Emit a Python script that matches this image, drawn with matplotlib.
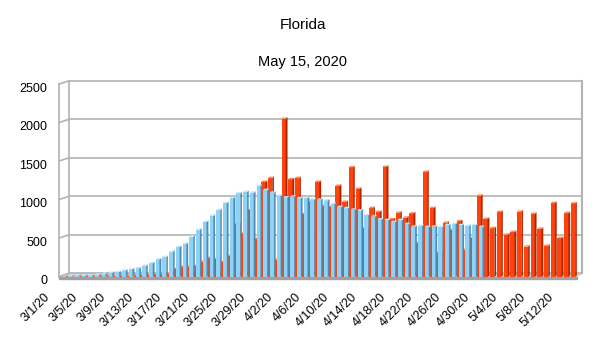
import matplotlib
matplotlib.use("Agg")
import matplotlib.pyplot as plt
from matplotlib.collections import PolyCollection
import matplotlib.transforms as mtransforms

plt.rcParams["font.family"] = ["Liberation Sans", "DejaVu Sans"]

# daily values, 3/1/20 .. 5/15/20
red_vals = [2, 1, 3, 2, 2, 5, 5, 8, 10, 10, 15, 20, 25,
            30, 30, 40, 100, 130, 130, 140, 195, 245, 230, 190,
            270, 680, 560, 865, 490, 1230, 1280, 220,
            2050, 1265, 1280, 815, 970, 1230, 920, 905, 1180, 970,
            1420, 1140, 630, 890, 840, 1425, 745, 830, 765, 820,
            440, 1360, 890, 310, 700, 610, 720, 350, 500, 1050,
            750, 630, 840, 545, 580, 845, 390, 815, 620, 400, 955, 500, 825, 950]
# 3/1/20 .. 5/1/20
blue_vals = [10, 12, 15, 18, 25, 35, 50, 60, 80, 95, 110, 140, 175,
             225, 255, 325, 385, 425, 520, 610, 710, 790, 865, 955, 1020, 1085,
             1100, 1090, 1180, 1125, 1090, 1050, 1030, 1040, 1020, 1020, 1005, 1000,
             990, 945, 905, 890, 870, 860, 800, 780, 745, 735, 710, 735,
             685, 650, 660, 645, 650, 645, 670, 685, 670, 660, 670, 645]
tick_labels = ["3/1/20", "3/5/20", "3/9/20", "3/13/20", "3/17/20", "3/21/20",
               "3/25/20", "3/29/20", "4/2/20", "4/6/20", "4/10/20", "4/14/20",
               "4/18/20", "4/22/20", "4/26/20", "4/30/20", "5/4/20", "5/8/20",
               "5/12/20"]
y_ticks = [0, 500, 1000, 1500, 2000, 2500]

W, H = 605, 340
PX_DAY = 6.73           # pixels per day on the bar plane
Y0, YTOP = 276.6, 84.1  # pixel rows of 0 and 2500 on the front plane
PX_UNIT = (Y0 - YTOP) / 2500

fig = plt.figure(figsize=(W / 100, H / 100), dpi=100)

# walls and floor, drawn in pixel space
bg = fig.add_axes([0, 0, 1, 1])
bg.set_xlim(0, W)
bg.set_ylim(H, 0)
bg.axis("off")
grid_c = "#b3b3b3"
bg.fill([59, 577, 582, 69], [Y0, Y0, Y0 - 3.3, Y0 - 3.3], color="#d4d4d4", zorder=1)
bg.fill([59, 577, 577, 59], [Y0, Y0, Y0 + 2, Y0 + 2], color="#a0a0a0", zorder=1)
for v in y_ticks:
    yb = Y0 - 3.3 - v * PX_UNIT
    bg.plot([69, 582], [yb, yb], color=grid_c, lw=1.2, zorder=1)
    bg.plot([59, 69], [yb + 3.3, yb], color=grid_c, lw=1.2, zorder=1)
bg.plot([59, 59], [YTOP, Y0], color=grid_c, lw=1.2, zorder=1)
bg.plot([69, 69], [YTOP - 3.3, Y0 - 3.3], color=grid_c, lw=1.2, zorder=1)
bg.plot([582, 582], [YTOP - 3.3, Y0 - 3.3], color=grid_c, lw=1.5, zorder=1)

fig.text(303 / W, 1 - 25 / H, "Florida", ha="center", va="center", fontsize=11)
fig.text(303 / W, 1 - 62 / H, "May 15, 2020", ha="center", va="center", fontsize=10.5)

# bar plane
x_lo = (59 - 66.2) / PX_DAY
x_hi = (577 - 66.2) / PX_DAY
ax = fig.add_axes([59 / W, (H - Y0) / H, 518 / W, (Y0 - YTOP) / H])
ax.set_xlim(x_lo, x_hi)
ax.set_ylim(0, 2500)
ax.patch.set_alpha(0)
for s in ax.spines.values():
    s.set_visible(False)
ax.set_xticks([])
ax.set_yticks(y_ticks)
ax.tick_params(axis="y", length=0, pad=8.6, labelsize=9)
shift = mtransforms.ScaledTranslation(0, -3 / 100, fig.dpi_scale_trans)
for lab in ax.get_yticklabels():
    lab.set_transform(lab.get_transform() + shift)


def bar3d(xs, hs, w_px, depth_px, front, side, top, z):
    w = w_px / PX_DAY
    dx = depth_px / PX_DAY
    dy = depth_px * 0.8 / PX_UNIT
    ax.bar(xs, hs, width=w, align="edge", color=front, linewidth=0, zorder=z)
    sides = [[(x + w, 0), (x + w, h), (x + w + dx, h + dy), (x + w + dx, dy)]
             for x, h in zip(xs, hs)]
    tops = [[(x, h), (x + w, h), (x + w + dx, h + dy), (x + dx, h + dy)]
            for x, h in zip(xs, hs)]
    ax.add_collection(PolyCollection(sides, facecolors=side, edgecolors=side,
                                     linewidths=0.2, zorder=z))
    ax.add_collection(PolyCollection(tops, facecolors=top, edgecolors=top,
                                     linewidths=0.2, zorder=z))


red_x = list(range(len(red_vals)))
blue_x = [d + 2 / PX_DAY for d in range(len(blue_vals))]
bar3d(red_x, red_vals, 4.3, 1.5, "#ff420e", "#a82800", "#ff8a5c", 3)
bar3d(blue_x, blue_vals, 4.0, 1.4, "#8dd2f7", "#4f88b0", "#c4eafc", 4)

# category labels sit on the front edge of the floor (own perspective scale)
labax = fig.add_axes([52 / W, (H - 291) / H, 72 * 7.0 / W, 0.001])
labax.set_xlim(0, 72)
labax.patch.set_alpha(0)
for s in labax.spines.values():
    s.set_visible(False)
labax.set_yticks([])
labax.set_xticks(range(0, 73, 4))
labax.set_xticklabels(tick_labels, rotation=45, ha="right", va="top", fontsize=9)
labax.tick_params(axis="x", length=0, pad=0)

fig.savefig("out.png", dpi=100)
